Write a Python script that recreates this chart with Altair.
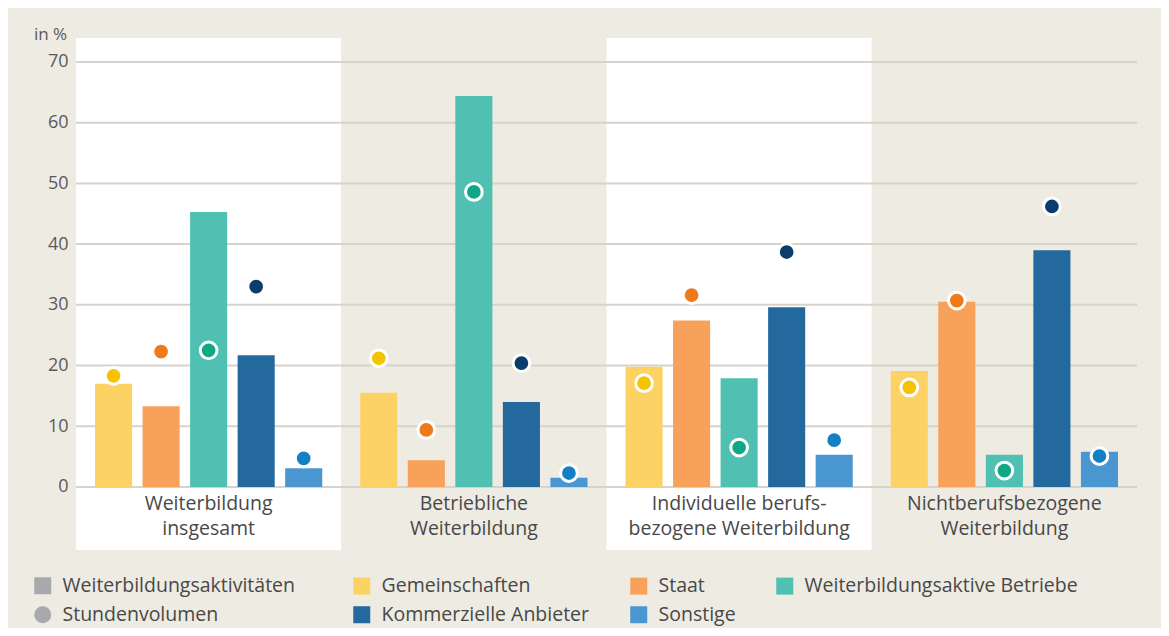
import altair as alt
import pandas as pd

# ---------------- data ----------------
groups = [
    "Weiterbildung\ninsgesamt",
    "Betriebliche\nWeiterbildung",
    "Individuelle berufs-\nbezogene Weiterbildung",
    "Nichtberufsbezogene\nWeiterbildung",
]
panel_shade = ["hell", "dunkel", "hell", "dunkel"]

categories = [
    "Gemeinschaften",
    "Staat",
    "Weiterbildungsaktive Betriebe",
    "Kommerzielle Anbieter",
    "Sonstige",
]

# Weiterbildungsaktivitäten (bars), in %
akt_insgesamt = [17.0, 13.3, 45.3, 21.7, 3.1]
akt_betrieblich = [15.5, 4.4, 64.4, 14.0, 1.5]
akt_individuell = [19.8, 27.4, 17.9, 29.6, 5.3]
akt_nichtberuf = [19.1, 30.5, 5.3, 39.0, 5.8]

# Stundenvolumen (dots), in %
std_insgesamt = [18.3, 22.3, 22.5, 33.0, 4.7]
std_betrieblich = [21.2, 9.4, 48.6, 20.4, 2.3]
std_individuell = [17.1, 31.6, 6.5, 38.7, 7.7]
std_nichtberuf = [16.4, 30.7, 2.7, 46.2, 5.1]

y_ticks = [0, 10, 20, 30, 40, 50, 60, 70]

measure_items = ["Weiterbildungsaktivitäten", "Stundenvolumen"]

# ---------------- styles ----------------
bar_colors = ["#FCD265", "#F7A15A", "#4FC0B1", "#24699D", "#4996D1"]
dot_colors = ["#F5C400", "#EE7A1A", "#0FA886", "#0A3D6B", "#157FC4"]
measure_colors = ["#A9A8AD", "#A9A8AD"]
measure_shapes = ["square", "circle"]
bg_color = "#EEEBE2"
text_color = "#484848"
font = "Open Sans"

# ---------------- tables ----------------
akt = [akt_insgesamt, akt_betrieblich, akt_individuell, akt_nichtberuf]
std = [std_insgesamt, std_betrieblich, std_individuell, std_nichtberuf]
rows = []
for g, a_vals, s_vals in zip(groups, akt, std):
    for c, a, s in zip(categories, a_vals, s_vals):
        rows.append({"group": g, "cat": c, "akt": a, "std": s})
df = pd.DataFrame(rows)
bg_df = pd.DataFrame({"group": groups, "shade": panel_shade})
grid_df = pd.DataFrame({"v": y_ticks})
meas_df = pd.DataFrame({"item": measure_items})

# ---------------- encodings ----------------
y_scale = alt.Scale(domain=[-10.38, 73.95], nice=False, zero=False)
y_axis = alt.Axis(
    values=y_ticks, grid=False, domain=False, ticks=False,
    labelFontSize=18, labelColor="#5A5A5A", labelPadding=8, labelFont=font,
    titleAngle=0, titleX=-26, titleY=-4, titleAlign="center", titleBaseline="middle",
    titleFontSize=17, titleFontWeight="normal", titleColor="#5A5A5A", titleFont=font,
)


def Y(field):
    return alt.Y(field, scale=y_scale, axis=y_axis, title="in %")


x_enc = alt.X(
    "group:N", sort=groups, title=None,
    scale=alt.Scale(paddingInner=0, paddingOuter=0),
    axis=alt.Axis(
        orient="bottom", offset=-63, domain=False, ticks=False, grid=False,
        labelAngle=0, labelFontSize=19.5, labelColor=text_color, labelFont=font,
        labelPadding=7, labelBaseline="top", labelLineHeight=25, labelLimit=0,
        labelExpr="split(datum.label, '\\n')", zindex=1,
    ),
)
xoff_enc = alt.XOffset(
    "cat:N", sort=categories,
    scale=alt.Scale(paddingInner=0.22, paddingOuter=0.4),
)

legend_common = dict(
    title=None, orient="none", direction="horizontal", legendY=538,
    rowPadding=8, symbolSize=289, symbolOpacity=1, symbolStrokeWidth=0,
    labelFontSize=19.5, labelFont=font, labelColor=text_color,
    labelOffset=10, labelLimit=0,
)
cat_legend = alt.Legend(legendX=276, columns=3, columnPadding=39, symbolType="square", **legend_common)
meas_legend = alt.Legend(legendX=-43, columns=1, **legend_common)

# ---------------- layers ----------------
bg = alt.Chart(bg_df).mark_rect().encode(
    x=x_enc,
    fill=alt.Fill("shade:N", scale=alt.Scale(domain=["hell", "dunkel"], range=["#FFFFFF", bg_color]), legend=None),
)

grid = alt.Chart(grid_df).mark_rule(color="#D6D3CB", strokeWidth=2).encode(y=Y("v:Q"))

bars = alt.Chart(df).mark_bar().encode(
    x=x_enc,
    xOffset=xoff_enc,
    y=Y("akt:Q"),
    color=alt.Color("cat:N", sort=categories, scale=alt.Scale(domain=categories, range=bar_colors), legend=cat_legend),
)

dots = alt.Chart(df).mark_circle(size=280, stroke="white", strokeWidth=3, opacity=1).encode(
    x=x_enc,
    xOffset=xoff_enc,
    y=Y("std:Q"),
    color=alt.Color("cat:N", sort=categories, scale=alt.Scale(domain=categories, range=dot_colors), legend=None),
)

measure_layer = alt.Chart(meas_df).mark_point(filled=True, opacity=0).encode(
    x=alt.value(0),
    y=alt.value(0),
    color=alt.Color("item:N", sort=measure_items, scale=alt.Scale(domain=measure_items, range=measure_colors), legend=meas_legend),
    shape=alt.Shape("item:N", sort=measure_items, scale=alt.Scale(domain=measure_items, range=measure_shapes), legend=meas_legend),
)

chart = (
    alt.layer(bg, grid, bars, dots, measure_layer)
    .resolve_scale(color="independent", shape="independent")
    .properties(
        width=1061,
        height=512,
        autosize=alt.AutoSizeParams(type="none"),
        padding={"left": 68, "top": 30, "right": 24, "bottom": 78},
        background=bg_color,
    )
    .configure(font=font)
    .configure_view(stroke="transparent")
)

chart.save("out.html", embed_options={"renderer": "svg", "actions": False})
